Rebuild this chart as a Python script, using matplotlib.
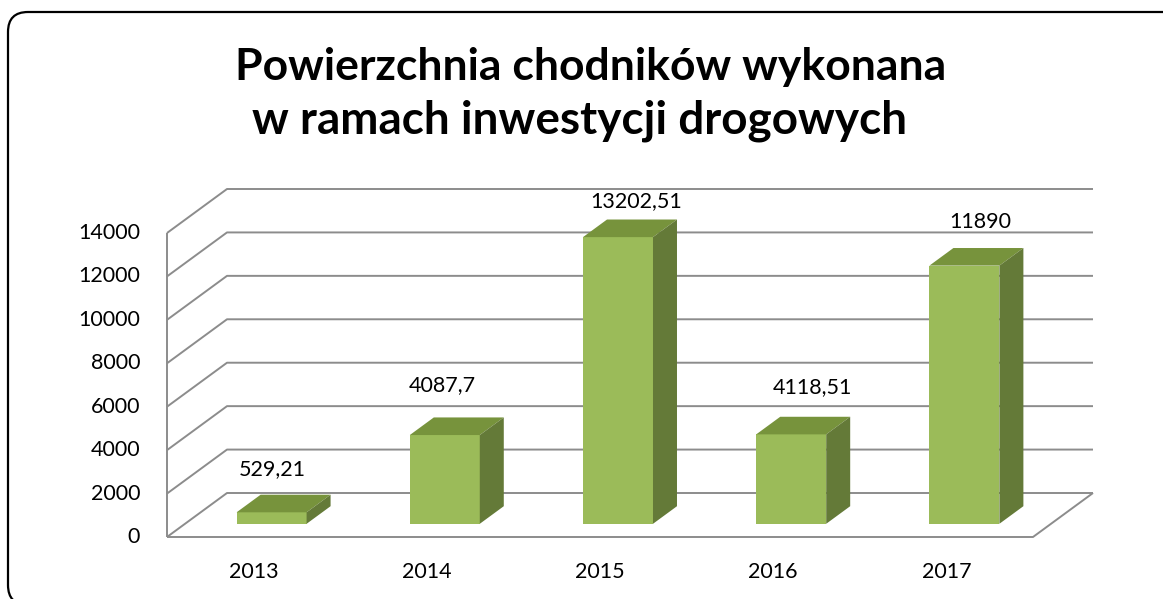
import matplotlib.pyplot as plt
from matplotlib.patches import Polygon, FancyBboxPatch

plt.rcParams['font.family'] = ['Lato', 'DejaVu Sans']

years = ['2013', '2014', '2015', '2016', '2017']
area = [529.21, 4087.7, 13202.51, 4118.51, 11890]
value_labels = ['529,21', '4087,7', '13202,51', '4118,51', '11890']
yticks = [0, 2000, 4000, 6000, 8000, 10000, 12000, 14000]

W, H = 1163, 599
fig = plt.figure(figsize=(W / 100, H / 100), dpi=100)
ax = fig.add_axes([167 / W, (H - 537) / H, 866 / W, 304 / H])
ax.set_xlim(0, 5)
ax.set_ylim(0, 14000)
ax.axis('off')

# oblique "3d" look: one unit of depth moves a point this much (data units)
DX = 60 / 173.2
DY = 44 * 14000 / 304


def proj(x, y, z):
    return x + z * DX, y + z * DY


grid = dict(color='#8c8c8c', lw=1.4, clip_on=False, zorder=1, solid_capstyle='butt')
for v in yticks:
    bx0, by0 = proj(0, v, 1)
    bx1, by1 = proj(5, v, 1)
    ax.plot([0, bx0, bx1], [v, by0, by1], **grid)
    ax.text(-0.155, v, str(v), ha='right', va='center', fontsize=15.5, color='black')
ax.plot([0, 0], [0, 14000], **grid)
fx, fy = proj(5, 0, 1)
ax.plot([0, 5, fx], [0, 0, fy], **grid)

# bars
bw = 0.404
z0, z1 = 0.3, 0.7
xs = [i + 0.5 for i in range(len(area))]
ax.bar([x + z0 * DX for x in xs], area, width=bw, bottom=z0 * DY,
       color='#9bbb59', edgecolor='none', zorder=3, clip_on=False)
for x, v in zip(xs, area):
    xl, xr = x - bw / 2, x + bw / 2
    top = [proj(xl, v, z0), proj(xr, v, z0), proj(xr, v, z1), proj(xl, v, z1)]
    side = [proj(xr, 0, z0), proj(xr, 0, z1), proj(xr, v, z1), proj(xr, v, z0)]
    ax.add_patch(Polygon(top, closed=True, fc='#77933c', ec='none', zorder=3, clip_on=False))
    ax.add_patch(Polygon(side, closed=True, fc='#647a38', ec='none', zorder=3, clip_on=False))

# value labels, nudged a little as in the original sheet
lab_dx = [1, -2, 18, 21, 16]
lab_dy = [43, 50, 36, 47, 44]
for x, v, s, dx, dy in zip(xs, area, value_labels, lab_dx, lab_dy):
    fx_, fy_ = proj(x, v, z0)
    ax.annotate(s, (fx_, fy_), xytext=(dx * 0.72, dy * 0.72), textcoords='offset points',
                ha='center', va='center', fontsize=15.5, annotation_clip=False)

for x, yr in zip(xs, years):
    ax.annotate(yr, (x, 0), xytext=(0, -35 * 0.72), textcoords='offset points',
                ha='center', va='center', fontsize=15.5, annotation_clip=False)

fig.text(591 / W, 1 - 80 / H, 'Powierzchnia chodników wykonana', ha='center',
         va='baseline', fontsize=32, fontweight='bold')
fig.text(580 / W, 1 - 134 / H, 'w ramach inwestycji drogowych', ha='center',
         va='baseline', fontsize=33, fontweight='bold')

# rounded frame around the chart, right and bottom sides run off the page
frame = FancyBboxPatch((0.08, -0.06), 11.75, 5.93,
                       boxstyle='round,pad=0,rounding_size=0.2',
                       transform=fig.dpi_scale_trans, fc='none', ec='black', lw=1.6)
fig.patches.append(frame)

fig.savefig('out.png', dpi=100)
